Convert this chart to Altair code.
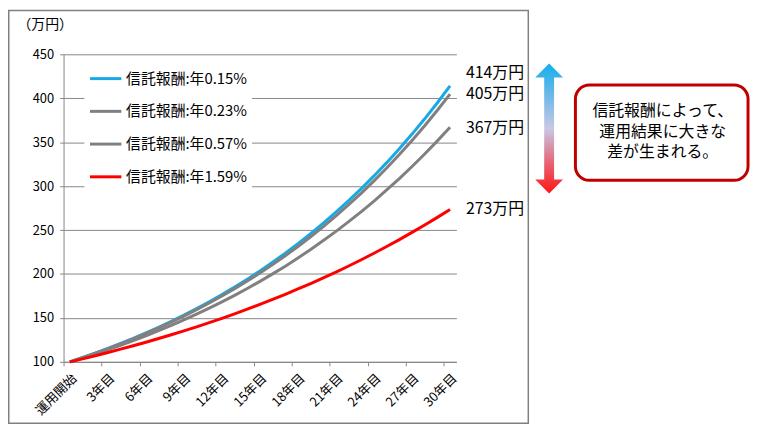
import altair as alt
import pandas as pd

FONT = "Noto Sans CJK JP"

categories = ["運用開始", "1年目", "2年目", "3年目", "4年目", "5年目", "6年目", "7年目", "8年目", "9年目",
              "10年目", "11年目", "12年目", "13年目", "14年目", "15年目", "16年目", "17年目", "18年目",
              "19年目", "20年目", "21年目", "22年目", "23年目", "24年目", "25年目", "26年目", "27年目",
              "28年目", "29年目", "30年目"]
tick_labels = ["運用開始", "3年目", "6年目", "9年目", "12年目", "15年目", "18年目", "21年目",
               "24年目", "27年目", "30年目"]

series_names = ["信託報酬:年0.15%", "信託報酬:年0.23%", "信託報酬:年0.57%", "信託報酬:年1.59%"]
series_colors = ["#17A9E6", "#808080", "#808080", "#FF0000"]

fee_015 = [100, 104.9, 109.9, 115.3, 120.9, 126.7, 132.9, 139.3, 146.1, 153.1, 160.6, 168.4, 176.5,
           185.1, 194.1, 203.5, 213.4, 223.7, 234.5, 245.9, 257.9, 270.4, 283.5, 297.2, 311.6, 326.7,
           342.6, 359.2, 376.6, 394.9, 414.1]
fee_023 = [100, 104.8, 109.8, 115.0, 120.5, 126.2, 132.3, 138.6, 145.2, 152.1, 159.4, 167.0, 174.9,
           183.3, 192.0, 201.2, 210.8, 220.8, 231.3, 242.4, 253.9, 266.1, 278.8, 292.0, 306.0, 320.6,
           335.9, 351.9, 368.7, 386.3, 404.7]
fee_057 = [100, 104.4, 109.1, 113.9, 118.9, 124.2, 129.7, 135.4, 141.4, 147.7, 154.3, 161.1, 168.2,
           175.7, 183.5, 191.6, 200.1, 208.9, 218.2, 227.9, 238.0, 248.5, 259.5, 271.0, 283.0, 295.6,
           308.6, 322.3, 336.6, 351.5, 367.1]
fee_159 = [100, 103.4, 106.9, 110.6, 114.4, 118.3, 122.3, 126.5, 130.8, 135.2, 139.8, 144.6, 149.5,
           154.6, 159.9, 165.4, 171.0, 176.8, 182.9, 189.1, 195.5, 202.2, 209.1, 216.2, 223.6, 231.2,
           239.1, 247.3, 255.7, 264.4, 273.4]

end_labels = ["414万円", "405万円", "367万円", "273万円"]
y_ticks = [100, 150, 200, 250, 300, 350, 400, 450]
note_text = "信託報酬によって、\n運用結果に大きな\n差が生まれる。"

all_series = [fee_015, fee_023, fee_057, fee_159]
rows = []
for name, vals in zip(series_names, all_series):
    for cat, v in zip(categories, vals):
        rows.append({"year": cat, "value": v, "series": name})
df = pd.DataFrame(rows)

W, H = 396, 310
step = W / len(categories)

x_scale = alt.Scale(type="point", padding=0.5, domain=categories)
y_scale = alt.Scale(domain=[100, 450], nice=False, zero=False)

x_axis = alt.Axis(values=tick_labels, labelAngle=-45, tickOffset=-step / 2, labelOffset=step / 2,
                  tickSize=4, tickColor="#868686", domainColor="#868686", labelFont=FONT,
                  labelFontSize=13, labelColor="#000000", labelPadding=6, grid=False, title=None)
y_axis = alt.Axis(values=y_ticks, tickSize=4, tickColor="#868686", domainColor="#868686",
                  gridColor="#868686", grid=True, labelFont=FONT, labelFontSize=13,
                  labelColor="#000000", labelPadding=6, title="（万円）", titleAngle=0,
                  titleX=-19, titleY=-30, titleAlign="center", titleBaseline="middle",
                  titleFont=FONT, titleFontSize=14, titleFontWeight="normal", titleColor="#000000")

border = alt.Chart(alt.Data(values=[{}])).mark_rect(
    fillOpacity=0, stroke="#808080", strokeWidth=1.5
).encode(x=alt.value(-55.25), x2=alt.value(468.5), y=alt.value(-44.25), y2=alt.value(372))

lines = alt.Chart(df).mark_line(strokeWidth=3).encode(
    x=alt.X("year:O", scale=x_scale, axis=x_axis, sort=categories),
    y=alt.Y("value:Q", scale=y_scale, axis=y_axis),
    color=alt.Color("series:N", scale=alt.Scale(domain=series_names, range=series_colors),
                    legend=alt.Legend(orient="none", legendX=21, legendY=3, title=None,
                                      fillColor="white", padding=4, symbolType="stroke",
                                      symbolStrokeWidth=3, symbolSize=1000, labelFont=FONT,
                                      labelFontSize=15, labelColor="#000000", labelOffset=3,
                                      rowPadding=7)),
)

label_dy = [-13, 0, 1, 0]
label_layers = []
for name, vals, txt, dy in zip(series_names, all_series, end_labels, label_dy):
    ldf = pd.DataFrame([{"year": categories[-1], "value": vals[-1], "label": txt}])
    label_layers.append(
        alt.Chart(ldf).mark_text(align="left", baseline="middle", dx=16, dy=dy, font=FONT,
                                 fontSize=16, color="#000000").encode(
            x=alt.X("year:O", scale=x_scale, sort=categories),
            y=alt.Y("value:Q", scale=y_scale),
            text="label:N",
        )
    )

arrow_path = ("M0,-1L0.214,-0.786L0.076,-0.786L0.076,0.786L0.214,0.786L0,1L-0.214,0.786"
              "L-0.076,0.786L-0.076,-0.786L-0.214,-0.786Z")
gradient = alt.LinearGradient(
    gradient="linear", x1=0, x2=0, y1=0, y2=1,
    stops=[alt.GradientStop(color="#12B0EE", offset=0),
           alt.GradientStop(color="#6FB8E6", offset=0.25),
           alt.GradientStop(color="#C8C8E6", offset=0.5),
           alt.GradientStop(color="#E56A7C", offset=0.75),
           alt.GradientStop(color="#FF1414", offset=1)],
)
arrow = alt.Chart(alt.Data(values=[{}])).mark_point(
    shape=arrow_path, size=131 * 131, filled=True, fill=gradient, strokeWidth=0, opacity=1
).encode(x=alt.value(489.5), y=alt.value(74.8))

box = alt.Chart(alt.Data(values=[{}])).mark_rect(
    fill="white", stroke="#C00000", strokeWidth=3, cornerRadius=14
).encode(x=alt.value(516), x2=alt.value(690), y=alt.value(31), y2=alt.value(127))

note = alt.Chart(alt.Data(values=[{}])).mark_text(
    text=note_text, lineBreak="\n", lineHeight=21, align="center", baseline="middle",
    font=FONT, fontSize=16, color="#000000"
).encode(x=alt.value(604), y=alt.value(57))

chart = alt.layer(border, lines, *label_layers, arrow, box, note).properties(
    width=W, height=H,
    padding={"left": 56, "top": 45, "right": 297, "bottom": 63},
    autosize=alt.AutoSizeParams(type="none"),
    background="white",
).configure_view(stroke=None)

chart.save("out.html", embed_options={"renderer": "svg", "actions": False})
